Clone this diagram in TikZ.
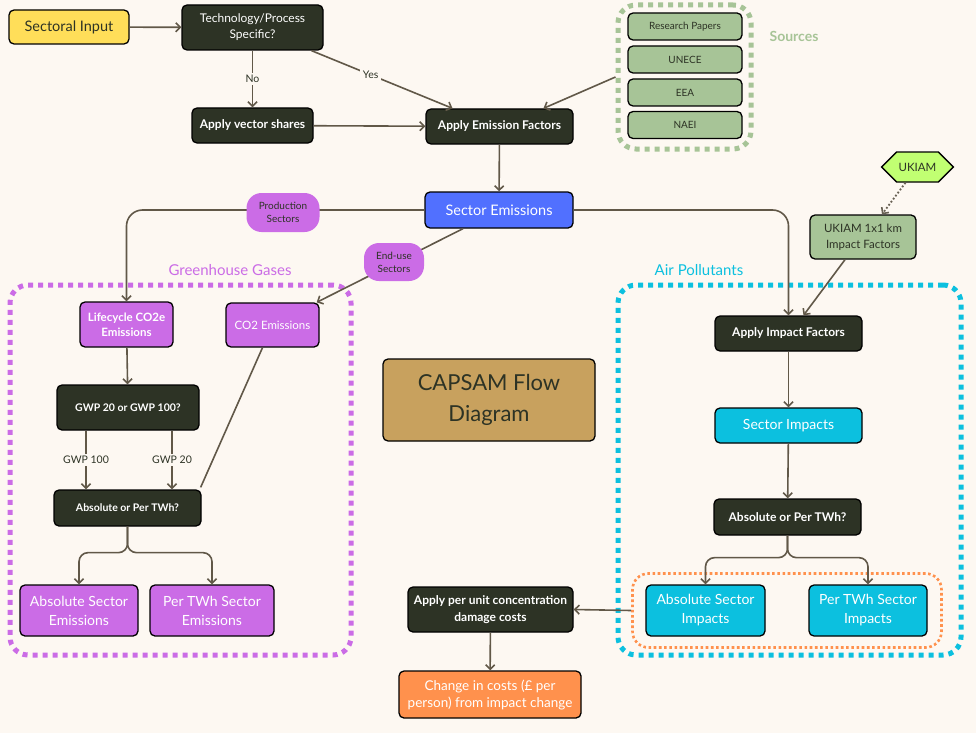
\documentclass[tikz,border=0pt]{standalone}
\usepackage{fontspec}
\setmainfont{Lato}
\usetikzlibrary{arrows.meta,shapes.symbols,calc}
\definecolor{bg}{HTML}{FDF8F2}
\definecolor{dark}{HTML}{2D3325}
\definecolor{arrc}{HTML}{615848}
\definecolor{yel}{HTML}{FFDE59}
\definecolor{grn}{HTML}{A7C497}
\definecolor{lime}{HTML}{C1FF72}
\definecolor{pur}{HTML}{CB6CE6}
\definecolor{cya}{HTML}{0CC0DF}
\definecolor{blu}{HTML}{5170FF}
\definecolor{ora}{HTML}{FF914D}
\definecolor{gold}{HTML}{C8A15E}
\definecolor{txt}{HTML}{2D3325}
\begin{document}
\begin{tikzpicture}[x=1pt,y=-1pt,
  box/.style={draw=black, line width=1.3pt, rounded corners=5pt, inner sep=2pt, align=center},
  darkbox/.style={box, fill=dark, text=white, font=\bfseries\fontsize{12}{15}\selectfont},
  srcbox/.style={box, fill=grn, text=txt, font=\fontsize{10}{12}\selectfont, minimum width=114pt, minimum height=27pt},
  purbox/.style={box, fill=pur, text=white},
  cyabox/.style={box, fill=cya, text=white},
  pill/.style={fill=pur, rounded corners=15pt, text=txt, align=center, inner sep=2pt, font=\fontsize{10}{13}\selectfont},
  arr/.style={draw=arrc, line width=1.6pt, -{Straight Barb[length=4.5pt,width=9pt,line width=1.6pt]}},
  plain/.style={draw=arrc, line width=1.6pt},
  lbl/.style={fill=bg, text=txt, inner sep=2.5pt, font=\fontsize{10.5}{12}\selectfont},
  frame/.style={line width=5pt, dash pattern=on 5pt off 5pt, rounded corners=18pt, inner sep=0pt},
]
\useasboundingbox (0,0) rectangle (976,733);
\fill[bg] (0,0) rectangle (976,733);

% frames
\node[frame, draw=grn, minimum width=133pt, minimum height=144pt] (srcf) at (684.5,77) {};
\node[frame, draw=pur, minimum width=341pt, minimum height=370pt] (ghgf) at (180.5,470) {};
\node[frame, draw=cya, minimum width=343pt, minimum height=370pt] (apf) at (789.5,470) {};
\node[draw=ora, line width=2.6pt, dash pattern=on 2.6pt off 2.6pt, rounded corners=16pt, minimum width=309pt, minimum height=74pt] (orf) at (787,610.5) {};

% frame labels
\node[text=grn, font=\bfseries\fontsize{14}{16}\selectfont] (srcl) at (794,36) {Sources};
\node[text=pur, font=\fontsize{15}{17}\selectfont] (ghgl) at (230,270) {Greenhouse Gases};
\node[text=cya, font=\fontsize{15}{17}\selectfont] (apl) at (699,270) {Air Pollutants};

% top nodes
\node[box, fill=yel, text=txt, font=\fontsize{14.5}{17}\selectfont, minimum width=120pt, minimum height=34pt] (si) at (69,27) {Sectoral Input};
\node[box, fill=dark, text=white, font=\fontsize{12}{16}\selectfont, minimum width=141pt, minimum height=45pt] (tech) at (252.5,27.5) {Technology/Process\\Specific?};
\node[darkbox, minimum width=121pt, minimum height=35pt] (avs) at (252.5,125.5) {Apply vector shares};
\node[darkbox, minimum width=147pt, minimum height=35pt] (aef) at (499.5,126.5) {Apply Emission Factors};

\node[srcbox] (rp) at (685,26.5) {Research Papers};
\node[srcbox] (unece) at (685,59.5) {UNECE};
\node[srcbox] (eea) at (685,92.5) {EEA};
\node[srcbox] (naei) at (685,125) {NAEI};

\node[box, fill=blu, text=white, font=\fontsize{14.5}{17}\selectfont, minimum width=148pt, minimum height=36pt] (se) at (499,210) {Sector Emissions};

\node[signal, signal to=east and west, signal pointer angle=90, draw=black, line width=1.3pt, fill=lime, text=txt, font=\fontsize{11.5}{14}\selectfont, minimum width=71pt, minimum height=30pt, inner sep=2pt] (uk) at (917.5,167) {UKIAM};
\node[box, fill=grn, text=txt, font=\fontsize{11.5}{16}\selectfont, minimum width=106pt, minimum height=44pt] (uk1) at (863,237) {UKIAM 1x1 km\\Impact Factors};

% GHG nodes
\node[purbox, font=\bfseries\fontsize{11.5}{15}\selectfont, minimum width=93pt, minimum height=45pt] (lc) at (126.5,324.5) {Lifecycle CO2e\\Emissions};
\node[purbox, font=\fontsize{11.5}{15}\selectfont, minimum width=93pt, minimum height=44pt] (co2) at (272.5,325) {CO2 Emissions};
\node[darkbox, font=\bfseries\fontsize{10.5}{14}\selectfont, minimum width=142pt, minimum height=45pt] (gwp) at (128,407.5) {GWP 20 or GWP 100?};
\node[darkbox, font=\bfseries\fontsize{10.5}{14}\selectfont, minimum width=147pt, minimum height=36pt] (ab1) at (127.5,508) {Absolute or Per TWh?};
\node[purbox, font=\fontsize{14}{19}\selectfont, minimum width=118pt, minimum height=51pt] (ase) at (79,610.5) {Absolute Sector\\Emissions};
\node[purbox, font=\fontsize{14}{19}\selectfont, minimum width=124pt, minimum height=51pt] (pse) at (212,610.5) {Per TWh Sector\\Emissions};

% centre
\node[box, fill=gold, text=txt, font=\fontsize{22}{31}\selectfont, minimum width=212pt, minimum height=82pt] (title) at (489,400) {CAPSAM Flow\\Diagram};

% AP nodes
\node[darkbox, minimum width=147pt, minimum height=35pt] (aif) at (788.5,333.5) {Apply Impact Factors};
\node[cyabox, font=\fontsize{14}{16}\selectfont, minimum width=147pt, minimum height=35pt] (sim) at (788.5,425.5) {Sector Impacts};
\node[darkbox, minimum width=147pt, minimum height=36pt] (ab2) at (787.5,517) {Absolute or Per TWh?};
\node[cyabox, font=\fontsize{14}{19}\selectfont, minimum width=119pt, minimum height=51pt] (asi) at (705.5,610.5) {Absolute Sector\\Impacts};
\node[cyabox, font=\fontsize{14}{19}\selectfont, minimum width=118pt, minimum height=51pt] (psi) at (868,610.5) {Per TWh Sector\\Impacts};

% bottom
\node[darkbox, font=\bfseries\fontsize{12}{17}\selectfont, minimum width=165pt, minimum height=45pt] (apu) at (490.5,609.5) {Apply per unit concentration\\damage costs};
\node[box, fill=ora, text=white, font=\fontsize{13.5}{17}\selectfont, minimum width=182pt, minimum height=47pt] (chg) at (490,694.5) {Change in costs (£ per\\person) from impact change};

% connectors
\draw[arr] (si) -- (tech);
\draw[arr] (tech.south) -- node[lbl]{No} (avs.north);
\draw[arr] ([xshift=59pt]tech.south) -- node[lbl, pos=0.42]{Yes} ([xshift=-47pt]aef.north);
\draw[arr] (avs) -- (aef);
\draw[arr] (srcf.west) -- ([xshift=44pt]aef.north);
\draw[arr] (aef) -- (se);

\draw[arr, rounded corners=16pt] (se.west) -- (se.west -| lc.north) -- (lc.north);
\node[pill, minimum width=73pt, minimum height=39pt] (prod) at (283,212.5) {Production\\Sectors};
\draw[arr] ([xshift=-36pt]se.south) -- ([xshift=-3pt]co2.north east);
\node[pill, minimum width=60pt, minimum height=38pt] (enduse) at (394,262) {End-use\\Sectors};
\draw[arr, rounded corners=16pt] (se.east) -- (se.east -| aif.north) -- (aif.north);

\draw[draw=arrc!80!gray, line width=1.8pt, dotted, -{Straight Barb[length=4.5pt,width=9pt,line width=1.6pt]}] ([xshift=-12pt]uk.south) -- ([xshift=19pt]uk1.north);
\draw[arr] ([xshift=-18pt]uk1.south) -- ([xshift=15pt]aif.north);

\draw[arr] (lc) -- (gwp);
\coordinate (g100) at ([xshift=-42pt]gwp.south);
\coordinate (g20) at ([xshift=44pt]gwp.south);
\draw[arr] (g100) -- node[lbl]{GWP 100} (g100 |- ab1.north);
\draw[arr] (g20) -- node[lbl]{GWP 20} (g20 |- ab1.north);
\draw[plain] ([xshift=-10pt]co2.south) -- ([xshift=-1pt,yshift=2pt]ab1.north east);
\draw[arr, rounded corners=9pt] (ab1.south) -- ++(0,26) -| (ase.north);
\draw[arr, rounded corners=9pt] (ab1.south) -- ++(0,26) -| (pse.north);

\draw[arr] (aif) -- (sim);
\draw[arr] (sim) -- (ab2);
\draw[arr, rounded corners=9pt] (ab2.south) -- ++(0,22) -| (asi.north);
\draw[arr, rounded corners=9pt] (ab2.south) -- ++(0,22) -| (psi.north);

\draw[arr] (orf.west) -- (apu.east);
\draw[arr] (apu) -- (chg);
\end{tikzpicture}
\end{document}
